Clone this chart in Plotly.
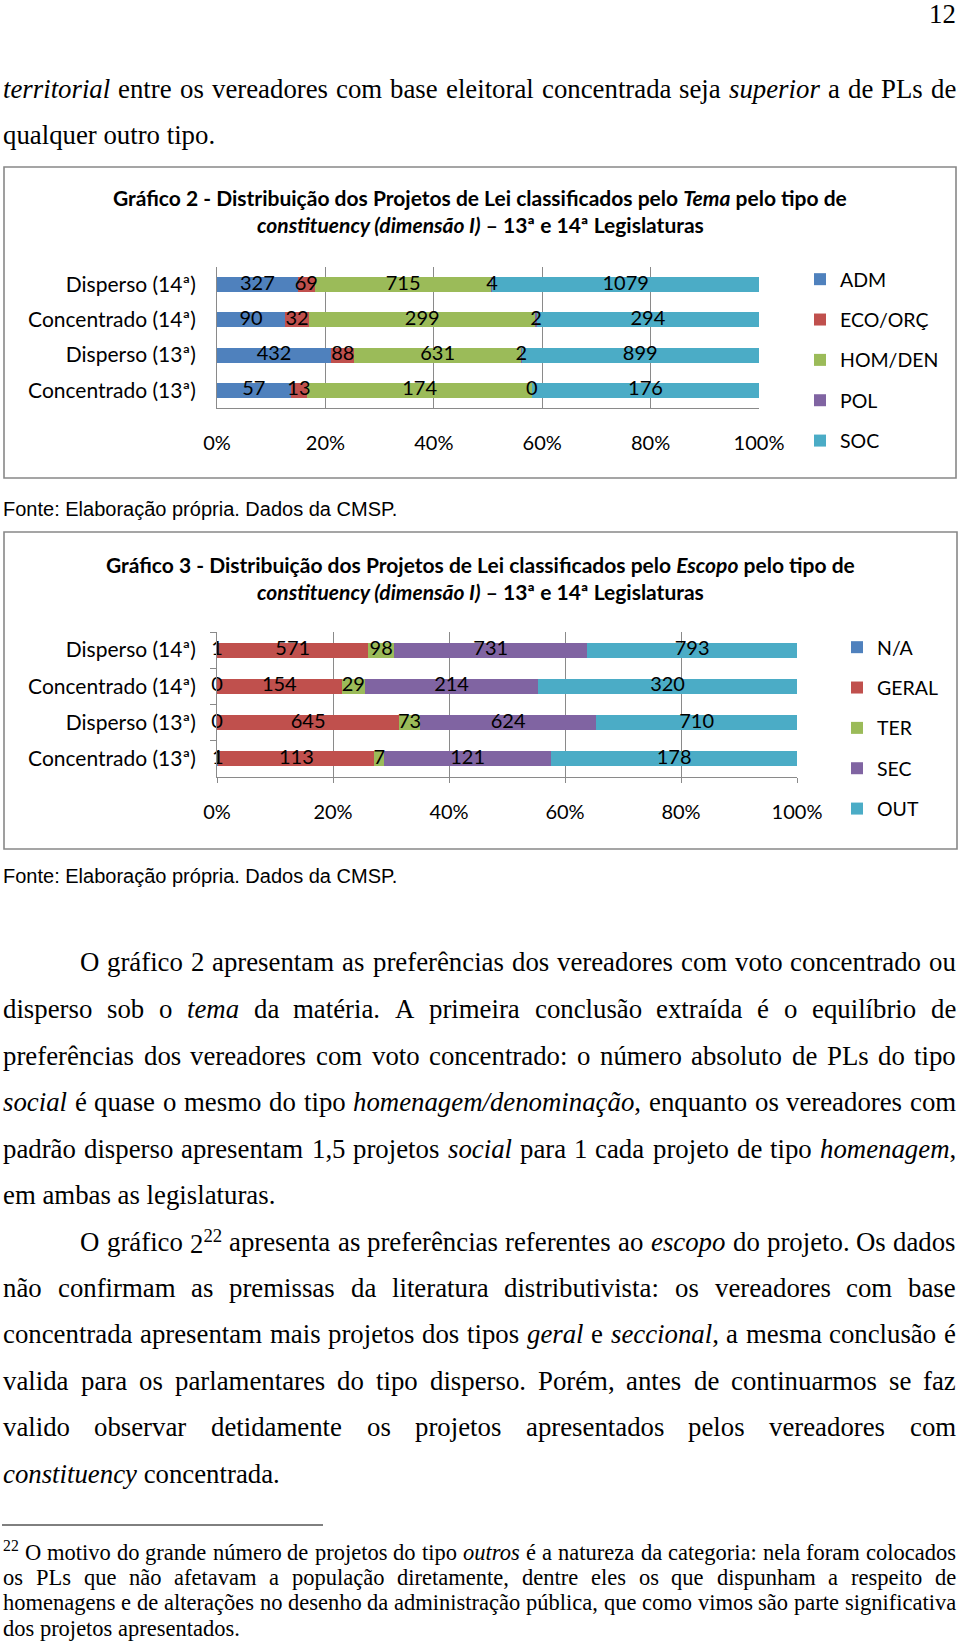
import re
import unicodedata
import plotly.graph_objects as go

W, H = 960, 1644

# ---------------- data ----------------
categories = ["Disperso (14ª)", "Concentrado (14ª)", "Disperso (13ª)", "Concentrado (13ª)"]

tema_names = ["ADM", "ECO/ORÇ", "HOM/DEN", "POL", "SOC"]
tema_adm = [327, 90, 432, 57]
tema_eco = [69, 32, 88, 13]
tema_hom = [715, 299, 631, 174]
tema_pol = [4, 2, 2, 0]
tema_soc = [1079, 294, 899, 176]

escopo_names = ["N/A", "GERAL", "TER", "SEC", "OUT"]
escopo_na = [1, 0, 0, 1]
escopo_geral = [571, 154, 645, 113]
escopo_ter = [98, 29, 73, 7]
escopo_sec = [731, 214, 624, 121]
escopo_out = [793, 320, 710, 178]

tick_vals = [0, 20, 40, 60, 80, 100]
tick_text = ["0%", "20%", "40%", "60%", "80%", "100%"]

series_colors = ["#4F81BD", "#C0504D", "#9BBB59", "#8064A2", "#4BACC6"]

title1_l1 = "<b>Gráfico 2 - Distribuição dos Projetos de Lei classificados pelo <i>Tema</i> pelo tipo de</b>"
title1_l2 = "<b><i>constituency (dimensão I)</i> – 13ª e 14ª Legislaturas</b>"
title2_l1 = "<b>Gráfico 3 - Distribuição dos Projetos de Lei classificados pelo <i>Escopo</i> pelo tipo de</b>"
title2_l2 = "<b><i>constituency (dimensão I)</i> – 13ª e 14ª Legislaturas</b>"
source_text = "Fonte: Elaboração própria. Dados da CMSP."
page_number = "12"

top_lines = [
    "<i>territorial</i> entre os vereadores com base eleitoral concentrada seja <i>superior</i> a de PLs de",
    "qualquer outro tipo.",
]
body_lines = [
    "O gráfico 2 apresentam as preferências dos vereadores com voto concentrado ou",
    "disperso sob o <i>tema</i> da matéria. A primeira conclusão extraída é o equilíbrio de",
    "preferências dos vereadores com voto concentrado: o número absoluto de PLs do tipo",
    "<i>social</i> é quase o mesmo do tipo <i>homenagem/denominação</i>, enquanto os vereadores com",
    "padrão disperso apresentam 1,5 projetos <i>social</i> para 1 cada projeto de tipo <i>homenagem</i>,",
    "em ambas as legislaturas.",
    "O gráfico 2<sup>22</sup> apresenta as preferências referentes ao <i>escopo</i> do projeto. Os dados",
    "não confirmam as premissas da literatura distributivista: os vereadores com base",
    "concentrada apresentam mais projetos dos tipos <i>geral</i> e <i>seccional</i>, a mesma conclusão é",
    "valida para os parlamentares do tipo disperso. Porém, antes de continuarmos se faz",
    "valido observar detidamente os projetos apresentados pelos vereadores com",
    "<i>constituency</i> concentrada.",
]
footnote_lines = [
    "<sup>22</sup> O motivo do grande número de projetos do tipo <i>outros</i> é a natureza da categoria: nela foram colocados",
    "os PLs que não afetavam a população diretamente, dentre eles os que dispunham a respeito de",
    "homenagens e de alterações no desenho da administração pública, que como vimos são parte significativa",
    "dos projetos apresentados.",
]

# ---------------- text metrics (Times) ----------------
TR = dict(zip("abcdefghijklmnopqrstuvwxyz",
              [444, 500, 444, 500, 444, 333, 500, 500, 278, 278, 500, 278, 778, 500, 500, 500, 500, 333, 389, 278, 500, 500, 722, 500, 500, 444]))
TR.update(zip("ABCDEFGHIJKLMNOPQRSTUVWXYZ",
              [722, 667, 667, 722, 611, 556, 722, 722, 333, 389, 722, 611, 889, 722, 722, 556, 722, 667, 556, 611, 722, 722, 944, 722, 722, 611]))
TI = dict(zip("abcdefghijklmnopqrstuvwxyz",
              [500, 500, 444, 500, 444, 278, 500, 500, 278, 278, 444, 278, 722, 500, 500, 500, 500, 389, 389, 278, 500, 444, 667, 444, 444, 389]))
TI.update(zip("ABCDEFGHIJKLMNOPQRSTUVWXYZ",
              [611, 611, 667, 722, 611, 611, 722, 722, 333, 444, 667, 556, 833, 667, 722, 611, 722, 611, 500, 556, 722, 611, 833, 611, 556, 556]))
for t in (TR, TI):
    t.update({" ": 250, ",": 250, ".": 250, ":": 278, ";": 278, "/": 278, "-": 333, "(": 333, ")": 333})
    for d in "0123456789":
        t[d] = 500


def char_w(ch, italic):
    table = TI if italic else TR
    if ch in table:
        return table[ch]
    base = unicodedata.normalize("NFD", ch)[0]
    return table.get(base, 500)


def word_w(word, size):
    italic = False
    sup = False
    total = 0.0
    for part in re.split(r"(</?i>|</?sup>)", word):
        if part == "<i>":
            italic = True
        elif part == "</i>":
            italic = False
        elif part == "<sup>":
            sup = True
        elif part == "</sup>":
            sup = False
        else:
            for ch in part:
                total += char_w(ch, italic) * (0.7 if sup else 1.0)
    return total / 1000.0 * size


annotations = []
SERIF = "Liberation Serif"


def ann(text, x, y, size, family=SERIF, xanchor="left", color="black", yshift=0):
    annotations.append(dict(text=text, x=x / W, y=1 - y / H, xref="paper", yref="paper",
                            xanchor=xanchor, yanchor="middle", showarrow=False,
                            borderpad=0, borderwidth=0, yshift=yshift,
                            font=dict(family=family, size=size, color=color)))


def add_line(text, y, x0, x1, size, justify):
    if not justify:
        ann(text, x0, y, size)
        return
    words = text.split(" ")
    widths = [word_w(w, size) for w in words]
    gap = (x1 - x0 - sum(widths)) / (len(words) - 1)
    x = x0
    for i, (w, wd) in enumerate(zip(words, widths)):
        ys = 0.3 * size if w.startswith("<sup>") else 0
        if i == len(words) - 1:
            ann(w, x1, y, size, xanchor="right", yshift=ys)
        else:
            ann(w, x, y, size, yshift=ys)
        x += wd + gap


LEFT, RIGHT, INDENT = 3, 956, 80
BODY = 26.8
FOOT = 22.5

ann(page_number, RIGHT, 14, BODY, xanchor="right")
add_line(top_lines[0], 89, LEFT, RIGHT, BODY, True)
add_line(top_lines[1], 135, LEFT, RIGHT, BODY, False)

body_y = [962, 1009, 1056, 1102, 1149, 1195, 1242, 1288, 1334, 1381, 1427, 1474]
body_indent = [True, False, False, False, False, False, True, False, False, False, False, False]
body_just = [True, True, True, True, True, False, True, True, True, True, True, False]
for t, y, ind, j in zip(body_lines, body_y, body_indent, body_just):
    add_line(t, y, INDENT if ind else LEFT, RIGHT, BODY, j)

foot_y = [1552, 1577, 1602, 1628]
foot_just = [True, True, True, False]
for t, y, j in zip(footnote_lines, foot_y, foot_just):
    add_line(t, y, LEFT, RIGHT, FOOT, j)

SANS = "Lato"
CH = 20
TITLE_SIZE = 21
ann(title1_l1, 480, 197, TITLE_SIZE, family=SANS, xanchor="center")
ann(title1_l2, 480, 224, TITLE_SIZE, family=SANS, xanchor="center")
ann(title2_l1, 480, 564, TITLE_SIZE, family=SANS, xanchor="center")
ann(title2_l2, 480, 591, TITLE_SIZE, family=SANS, xanchor="center")
ann(source_text, LEFT, 509, 20, family="Liberation Sans")
ann(source_text, LEFT, 876, 20, family="Liberation Sans")

# ---------------- figure ----------------
fig = go.Figure()

tema_values = [tema_adm, tema_eco, tema_hom, tema_pol, tema_soc]
escopo_values = [escopo_na, escopo_geral, escopo_ter, escopo_sec, escopo_out]


def add_chart(names, values, xa, ya, legend):
    for name, vals, col in zip(names, values, series_colors):
        fig.add_trace(go.Bar(y=categories, x=vals, name=name, orientation="h",
                             marker=dict(color=col, line=dict(width=0)),
                             xaxis=xa, yaxis=ya, legend=legend, legendgroup=legend + name,
                             hoverinfo="skip"))
    totals = [sum(v[i] for v in values) for i in range(len(categories))]
    cum = [0] * len(categories)
    for vals in values:
        mids = []
        for i, v in enumerate(vals):
            mids.append((cum[i] + v / 2) / totals[i] * 100)
            cum[i] += v
        fig.add_trace(go.Scatter(x=mids, y=categories, mode="text", text=[str(v) for v in vals],
                                 textposition="middle center", showlegend=False, cliponaxis=False,
                                 textfont=dict(family=SANS, size=CH, color="black"),
                                 xaxis=xa, yaxis=ya, hoverinfo="skip"))


add_chart(tema_names, tema_values, "x", "y", "legend")
add_chart(escopo_names, escopo_values, "x2", "y2", "legend2")

GRID = "#8a8a8a"
xcommon = dict(range=[0, 100], tickvals=tick_vals, ticktext=tick_text, showgrid=True,
               gridcolor=GRID, gridwidth=1, showline=True, linecolor=GRID, linewidth=1,
               zeroline=False, tickfont=dict(family=SANS, size=CH, color="black"),
               fixedrange=True, automargin=False)
ycommon = dict(type="category", autorange="reversed", showgrid=False, showline=True,
               linecolor=GRID, linewidth=1, tickfont=dict(family=SANS, size=21, color="black"),
               fixedrange=True, automargin=False)

legend_common = dict(xanchor="left", yanchor="top", orientation="v",
                     font=dict(family=SANS, size=19.5, color="black"),
                     tracegroupgap=12, bgcolor="rgba(0,0,0,0)", traceorder="grouped",
                     itemclick=False, itemdoubleclick=False)

fig.update_layout(
    width=W, height=H, autosize=False,
    margin=dict(l=0, r=0, t=0, b=0, pad=0, autoexpand=False),
    paper_bgcolor="white", plot_bgcolor="white",
    barmode="stack", barnorm="percent", bargap=0.58,
    showlegend=True,
    xaxis=dict(domain=[217 / W, 759 / W], anchor="y", ticks="", ticklabelstandoff=17, **xcommon),
    yaxis=dict(domain=[1 - 408 / H, 1 - 267 / H], anchor="x", ticks="", ticklabelstandoff=16, **ycommon),
    xaxis2=dict(domain=[217 / W, 797 / W], anchor="y2", ticks="outside", ticklen=5, tickcolor=GRID,
                ticklabelstandoff=12, **xcommon),
    yaxis2=dict(domain=[1 - 777 / H, 1 - 632 / H], anchor="x2", ticks="outside", ticklen=6,
                tickcolor=GRID, tickson="boundaries", ticklabelstandoff=16, **ycommon),
    legend=dict(x=800 / W, y=1 - 260 / H, **legend_common),
    legend2=dict(x=837 / W, y=1 - 628 / H, **legend_common),
    annotations=annotations,
    shapes=[
        dict(type="rect", xref="paper", yref="paper", x0=4 / W, x1=956 / W, y0=1 - 478 / H, y1=1 - 167 / H,
             line=dict(color="#888888", width=1.6)),
        dict(type="rect", xref="paper", yref="paper", x0=4 / W, x1=957 / W, y0=1 - 849 / H, y1=1 - 532 / H,
             line=dict(color="#888888", width=1.6)),
        dict(type="line", xref="paper", yref="paper", x0=2 / W, x1=323 / W, y0=1 - 1525 / H, y1=1 - 1525 / H,
             line=dict(color="black", width=1)),
    ],
)

fig.write_html("out.html", config={"responsive": False, "displayModeBar": False},
               post_script="document.body.style.margin='0';document.body.style.overflow='hidden';")
